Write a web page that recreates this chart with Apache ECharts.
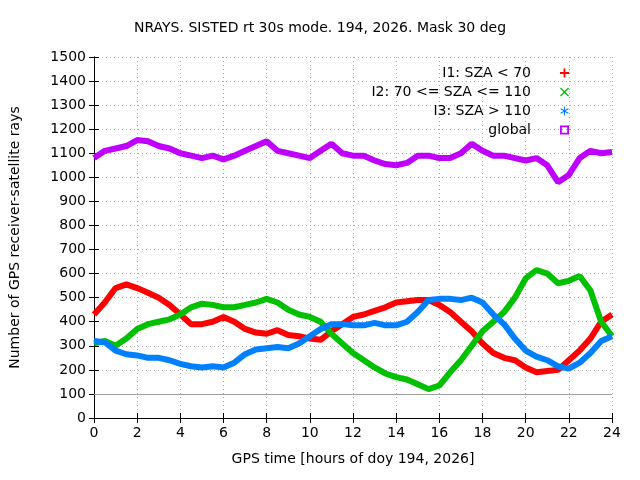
<!DOCTYPE html>
<html><head><meta charset="utf-8">
<script src="https://cdn.jsdelivr.net/npm/echarts@6/dist/echarts.min.js"></script>
<style>body{margin:0}#c{width:640px;height:480px}</style></head>
<body><div id="c"></div>
<script>
// hours, sampled every half hour
var hours = []
for (var i = 0; i <= 48; i++) hours.push(i / 2)

var i1 = [430,480,540,555,540,520,500,470,430,390,390,400,420,400,370,355,350,365,345,340,330,325,360,390,420,430,445,460,480,485,490,490,470,440,400,360,310,270,250,240,210,190,195,200,240,280,330,400,430]
var i2 = [310,320,300,330,370,390,400,410,430,460,475,470,460,460,470,480,495,480,450,430,420,400,350,310,270,240,210,185,170,160,140,120,135,190,240,300,360,400,440,500,580,615,600,560,570,590,530,400,340]
var i3 = [320,315,280,265,260,250,250,240,225,215,210,215,210,230,265,285,290,295,290,310,340,370,390,390,385,385,395,385,385,400,440,490,495,495,490,500,480,430,390,330,280,255,240,215,205,230,270,320,340]
var glob = [1080,1110,1120,1130,1155,1150,1130,1120,1100,1090,1080,1090,1075,1090,1110,1130,1150,1110,1100,1090,1080,1110,1140,1100,1090,1090,1070,1055,1050,1060,1090,1090,1080,1080,1100,1140,1110,1090,1090,1080,1070,1080,1050,980,1010,1080,1110,1100,1105]

var names = ['I1: SZA < 70', 'I2: 70 <= SZA <= 110', 'I3: SZA > 110', 'global']
var colors = ['#ff0000', '#00c000', '#0080ff', '#c000ff']
var icons = [
  'path://M4,0H6V4H10V6H6V10H4V6H0V4H4Z',
  'path://M0,1L1,0L5,4L9,0L10,1L6,5L10,9L9,10L5,6L1,10L0,9L4,5Z',
  'path://M4.4,0H5.6V3.9L9,2L9.6,3L6.2,5L9.6,7L9,8L5.6,6.1V10H4.4V6.1L1,8L0.4,7L3.8,5L0.4,3L1,2L4.4,3.9Z',
  'path://M0,0H10V10H0ZM2,2V8H8V2Z'
]
var data = [i1, i2, i3, glob]

var grid = { left: 94, right: 28, top: 57, bottom: 62 }
var axisTxt = { color: '#000', fontSize: 14, fontFamily: 'DejaVu Sans' }
var split = { show: true, lineStyle: { color: '#aaa', type: [1, 3] } }

var series = data.map(function (d, k) {
  return {
    name: names[k], type: 'line', symbol: 'none',
    data: d.map(function (v, j) { return [hours[j], v] }),
    lineStyle: { color: colors[k], width: 6 },
    itemStyle: { color: colors[k] }
  }
})
series[0].markLine = {
  silent: true, symbol: 'none', label: { show: false },
  lineStyle: { color: '#a0a0a0', type: 'solid', width: 1 },
  data: [{ yAxis: 100 }]
}

var chart = echarts.init(document.getElementById('c'))
chart.setOption({
  animation: false,
  backgroundColor: '#fff',
  title: {
    text: 'NRAYS. SISTED rt 30s mode. 194, 2026. Mask 30 deg',
    left: 'center', top: 16,
    textStyle: { fontSize: 14, fontWeight: 'normal', color: '#000', fontFamily: 'DejaVu Sans' }
  },
  legend: {
    orient: 'vertical', right: 66, top: 61, align: 'right', itemGap: 5,
    itemWidth: 9, itemHeight: 9,
    textStyle: { fontSize: 14, color: '#000', fontFamily: 'DejaVu Sans', padding: [0, 24, 0, 0] },
    data: names.map(function (n, k) { return { name: n, icon: icons[k], itemStyle: { color: colors[k] } } })
  },
  grid: grid,
  xAxis: [{
    type: 'value', min: 0, max: 24, interval: 2,
    name: 'GPS time [hours of doy 194, 2026]', nameLocation: 'middle', nameGap: 34,
    nameTextStyle: axisTxt, axisLabel: axisTxt,
    axisLine: { lineStyle: { color: '#000' } }, axisTick: { inside: true, lineStyle: { color: '#000' } },
    splitLine: split
  }, {
    type: 'value', position: 'top', min: 0, max: 24, interval: 2,
    axisLabel: { show: false }, axisLine: { lineStyle: { color: '#000' } },
    axisTick: { inside: true, lineStyle: { color: '#000' } }, splitLine: { show: false }
  }],
  yAxis: [{
    type: 'value', min: 0, max: 1500, interval: 100,
    name: 'Number of GPS receiver-satellite rays', nameLocation: 'middle', nameGap: 72,
    nameTextStyle: axisTxt,
    axisLabel: Object.assign({ formatter: function (v) { return String(v) } }, axisTxt),
    axisLine: { show: true, lineStyle: { color: '#000' } }, axisTick: { inside: true, lineStyle: { color: '#000' } },
    splitLine: split
  }, {
    type: 'value', position: 'right', min: 0, max: 1500, interval: 100,
    axisLabel: { show: false }, axisLine: { show: true, lineStyle: { color: '#000' } },
    axisTick: { inside: true, lineStyle: { color: '#000' } }, splitLine: { show: false }
  }],
  series: series
})
</script></body></html>
